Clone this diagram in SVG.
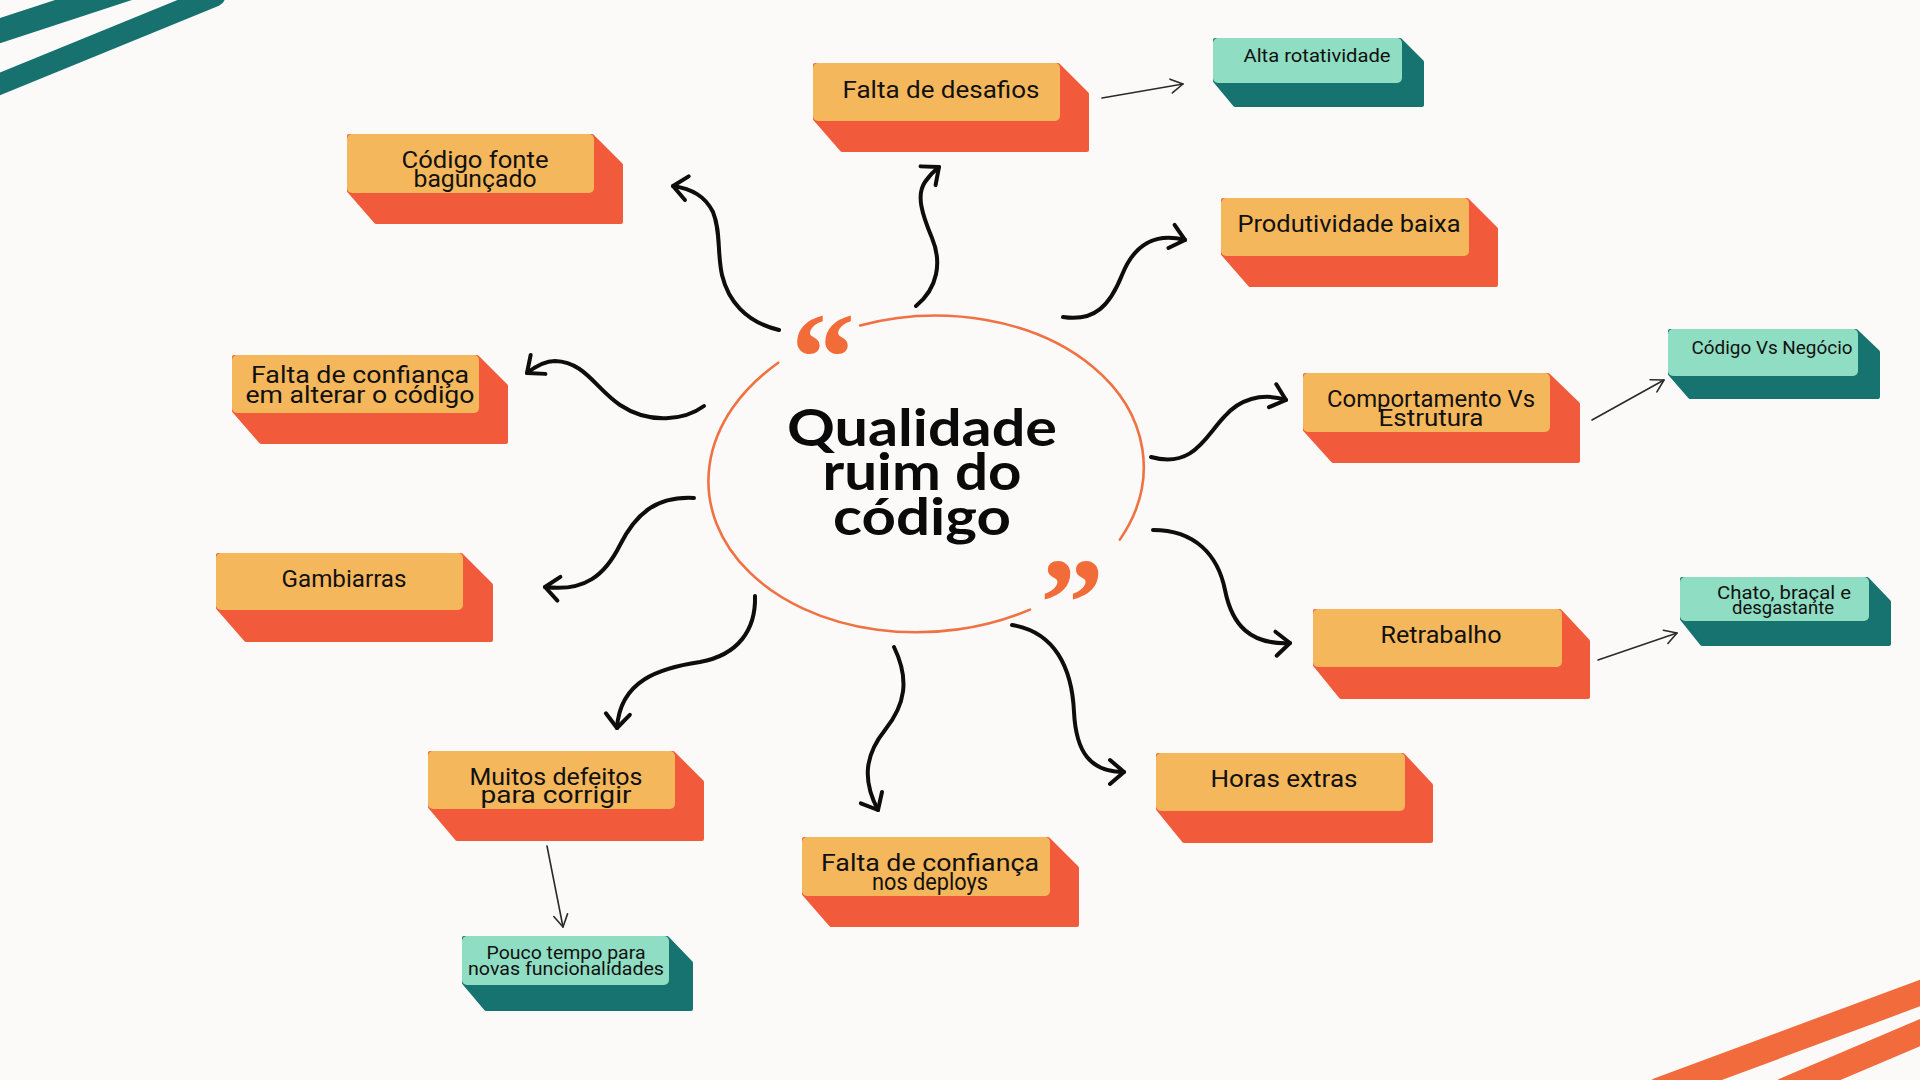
<svg xmlns="http://www.w3.org/2000/svg" width="1920" height="1080" viewBox="0 0 1920 1080">
<defs>
<style>
.sh-o{fill:#F15B3B;stroke:#F15B3B;stroke-width:4;stroke-linejoin:round}
.fr-o{fill:#F5B75B}
.sh-t{fill:#17736F;stroke:#17736F;stroke-width:4;stroke-linejoin:round}
.fr-t{fill:#8FDDC2}
.lbl{font-family:Roboto,"Liberation Sans",sans-serif;font-size:23px;font-weight:400;fill:#111;text-anchor:middle}
.sm{font-size:18px}
.title{font-family:Lato,"Liberation Sans",sans-serif;font-size:52px;font-weight:700;fill:#0a0a0a;text-anchor:middle}
.quote{font-family:"Liberation Serif",serif;font-size:128px;font-weight:700;fill:#F26C3A;text-anchor:middle}
.conn{fill:none;stroke:#0d0d0d;stroke-width:4;stroke-linecap:round}
.thin{fill:none;stroke:#2a2a2a;stroke-width:1.6;stroke-linecap:round}
.ring{fill:none;stroke:#F07243;stroke-width:2.6;stroke-linecap:round}
.stripe-t{stroke:#17716F;stroke-linecap:round;fill:none}
.stripe-o{stroke:#F26B3C;stroke-linecap:round;fill:none}
</style>
<marker id="ah" markerUnits="userSpaceOnUse" markerWidth="40" markerHeight="40" viewBox="-20 -20 40 40" refX="0" refY="0" orient="auto" overflow="visible">
<path d="M-14,-12 L0,0 L-14,12" fill="none" stroke="#0d0d0d" stroke-width="4" stroke-linecap="round" stroke-linejoin="round"/>
</marker>
<marker id="ahs" markerUnits="userSpaceOnUse" markerWidth="30" markerHeight="30" viewBox="-15 -15 30 30" refX="0" refY="0" orient="auto" overflow="visible">
<path d="M-12,-7 L0,0 L-12,7" fill="none" stroke="#2a2a2a" stroke-width="1.6" stroke-linecap="round" stroke-linejoin="round"/>
</marker>
</defs>
<rect x="0" y="0" width="1920" height="1080" fill="#FBFAF9"/>

<g id="decor">
<line class="stripe-t" x1="-10" y1="34" x2="130" y2="-12" stroke-width="24"/>
<line class="stripe-t" x1="-10" y1="88" x2="215" y2="-4" stroke-width="21"/>
<line class="stripe-o" x1="1659" y1="1090" x2="1947" y2="983" stroke-width="25"/>
<line class="stripe-o" x1="1785" y1="1090" x2="1945" y2="1022" stroke-width="25"/>
</g>

<g id="center">
<g transform="rotate(-4 926 474)">
<path class="ring" d="M870.6,321.2 A218,158 0 0 1 1114.8,553"/>
<path class="ring" d="M786.4,352.7 A218,158 0 0 0 1020.2,616.5"/>
</g>
<text class="quote" x="823" y="400">“</text>
<text class="quote" x="1072" y="646">”</text>
<text class="title" x="922" y="446" textLength="270" lengthAdjust="spacingAndGlyphs">Qualidade</text>
<text class="title" x="922" y="490" textLength="199" lengthAdjust="spacingAndGlyphs">ruim do</text>
<text class="title" x="922" y="535" textLength="178" lengthAdjust="spacingAndGlyphs">código</text>
</g>

<g id="connectors">
<path class="conn" marker-end="url(#ah)" d="M779,330 C745,322 728,300 722,275 C717,252 721,232 713,212 C705,196 692,189 673,186"/>
<path class="conn" marker-end="url(#ah)" d="M916,306 C938,288 942,262 932,238 C922,214 916,195 925,182 C929,176 934,171 939,167"/>
<path class="conn" marker-end="url(#ah)" d="M1063,317 C1095,322 1110,305 1122,275 C1134,245 1155,232 1185,240"/>
<path class="conn" marker-end="url(#ah)" d="M704,406 C685,420 650,425 620,405 C595,388 585,362 555,361 C545,361 536,366 527,373"/>
<path class="conn" marker-end="url(#ah)" d="M694,498 C655,496 635,515 620,545 C605,575 585,592 545,587"/>
<path class="conn" marker-end="url(#ah)" d="M1151,457 C1194,469 1206,435 1225,416 C1239,400 1261,392 1286,400"/>
<path class="conn" marker-end="url(#ah)" d="M1153,530 C1195,530 1218,555 1225,590 C1232,625 1250,645 1290,643"/>
<path class="conn" marker-end="url(#ah)" d="M1012,625 C1055,632 1072,668 1074,712 C1076,752 1090,772 1124,772"/>
<path class="conn" marker-end="url(#ah)" d="M894,647 C910,680 905,705 885,730 C865,755 862,780 878,810"/>
<path class="conn" marker-end="url(#ah)" d="M755,596 C756,630 738,655 700,662 C660,668 620,680 617,728"/>
<path class="thin" marker-end="url(#ahs)" d="M1102,98 L1183,84"/>
<path class="thin" marker-end="url(#ahs)" d="M1592,420 L1664,380"/>
<path class="thin" marker-end="url(#ahs)" d="M1598,660 L1677,633"/>
<path class="thin" marker-end="url(#ahs)" d="M547,846 L563,927"/>
</g>

<g id="n-falta-desafios">
<polygon class="sh-o" points="815,65 1058,65 1087,94 1087,150 842,150 815,119"/>
<rect class="fr-o" x="813" y="63" width="247" height="58" rx="5"/>
<text class="lbl" x="941" y="98" textLength="197" lengthAdjust="spacingAndGlyphs">Falta de desafios</text>
</g>

<g id="n-codigo-fonte">
<polygon class="sh-o" points="349,136 592,136 621,165 621,222 376,222 349,191"/>
<rect class="fr-o" x="347" y="134" width="247" height="59" rx="5"/>
<text class="lbl" x="475" y="168" textLength="147" lengthAdjust="spacingAndGlyphs">Código fonte</text>
<text class="lbl" x="475" y="187" textLength="123" lengthAdjust="spacingAndGlyphs">bagunçado</text>
</g>

<g id="n-produtividade">
<polygon class="sh-o" points="1223,200 1467,200 1496,229 1496,285 1250,285 1223,254"/>
<rect class="fr-o" x="1221" y="198" width="248" height="58" rx="5"/>
<text class="lbl" x="1349" y="232" textLength="223" lengthAdjust="spacingAndGlyphs">Produtividade baixa</text>
</g>

<g id="n-alta-rotatividade">
<polygon class="sh-t" points="1215,40 1400,40 1422,62 1422,105 1235,105 1215,81"/>
<rect class="fr-t" x="1213" y="38" width="189" height="45" rx="5"/>
<text class="lbl sm" x="1317" y="62" textLength="147" lengthAdjust="spacingAndGlyphs">Alta rotatividade</text>
</g>

<g id="n-confianca-alterar">
<polygon class="sh-o" points="234,357 477,357 506,386 506,442 261,442 234,411"/>
<rect class="fr-o" x="232" y="355" width="247" height="58" rx="5"/>
<text class="lbl" x="360" y="383" textLength="218" lengthAdjust="spacingAndGlyphs">Falta de confiança</text>
<text class="lbl" x="360" y="403" textLength="229" lengthAdjust="spacingAndGlyphs">em alterar o código</text>
</g>

<g id="n-comportamento">
<polygon class="sh-o" points="1305,375 1548,375 1578,404 1578,461 1333,461 1305,430"/>
<rect class="fr-o" x="1303" y="373" width="247" height="59" rx="5"/>
<text class="lbl" x="1431" y="407" textLength="208" lengthAdjust="spacingAndGlyphs">Comportamento Vs</text>
<text class="lbl" x="1431" y="426" textLength="105" lengthAdjust="spacingAndGlyphs">Estrutura</text>
</g>

<g id="n-codigo-negocio">
<polygon class="sh-t" points="1670,331 1856,331 1878,352 1878,397 1690,397 1670,374"/>
<rect class="fr-t" x="1668" y="329" width="190" height="47" rx="5"/>
<text class="lbl sm" x="1772" y="354" textLength="161" lengthAdjust="spacingAndGlyphs">Código Vs Negócio</text>
</g>

<g id="n-gambiarras">
<polygon class="sh-o" points="218,555 461,555 491,585 491,640 246,640 218,608"/>
<rect class="fr-o" x="216" y="553" width="247" height="57" rx="5"/>
<text class="lbl" x="344" y="587" textLength="125" lengthAdjust="spacingAndGlyphs">Gambiarras</text>
</g>

<g id="n-retrabalho">
<polygon class="sh-o" points="1315,611 1560,611 1588,641 1588,697 1341,697 1315,665"/>
<rect class="fr-o" x="1313" y="609" width="249" height="58" rx="5"/>
<text class="lbl" x="1441" y="643" textLength="121" lengthAdjust="spacingAndGlyphs">Retrabalho</text>
</g>

<g id="n-chato">
<polygon class="sh-t" points="1682,579 1867,579 1889,602 1889,644 1702,644 1682,619"/>
<rect class="fr-t" x="1680" y="577" width="189" height="44" rx="5"/>
<text class="lbl sm" x="1784" y="599" textLength="134" lengthAdjust="spacingAndGlyphs">Chato, braçal e</text>
<text class="lbl sm" x="1783" y="614" textLength="102" lengthAdjust="spacingAndGlyphs">desgastante</text>
</g>

<g id="n-muitos-defeitos">
<polygon class="sh-o" points="430,753 673,753 702,782 702,839 457,839 430,807"/>
<rect class="fr-o" x="428" y="751" width="247" height="58" rx="5"/>
<text class="lbl" x="556" y="785" textLength="173" lengthAdjust="spacingAndGlyphs">Muitos defeitos</text>
<text class="lbl" x="556" y="803" textLength="151" lengthAdjust="spacingAndGlyphs">para corrigir</text>
</g>

<g id="n-pouco-tempo">
<polygon class="sh-t" points="464,938 667,938 691,963 691,1009 486,1009 464,983"/>
<rect class="fr-t" x="462" y="936" width="207" height="49" rx="5"/>
<text class="lbl sm" x="566" y="959" textLength="159" lengthAdjust="spacingAndGlyphs">Pouco tempo para</text>
<text class="lbl sm" x="566" y="975" textLength="196" lengthAdjust="spacingAndGlyphs">novas funcionalidades</text>
</g>

<g id="n-confianca-deploys">
<polygon class="sh-o" points="804,839 1048,839 1077,868 1077,925 831,925 804,894"/>
<rect class="fr-o" x="802" y="837" width="248" height="59" rx="5"/>
<text class="lbl" x="930" y="871" textLength="218" lengthAdjust="spacingAndGlyphs">Falta de confiança</text>
<text class="lbl" x="930" y="890" textLength="116" lengthAdjust="spacingAndGlyphs">nos deploys</text>
</g>

<g id="n-horas-extras">
<polygon class="sh-o" points="1158,755 1403,755 1431,785 1431,841 1184,841 1158,809"/>
<rect class="fr-o" x="1156" y="753" width="249" height="58" rx="5"/>
<text class="lbl" x="1284" y="787" textLength="147" lengthAdjust="spacingAndGlyphs">Horas extras</text>
</g>
</svg>
